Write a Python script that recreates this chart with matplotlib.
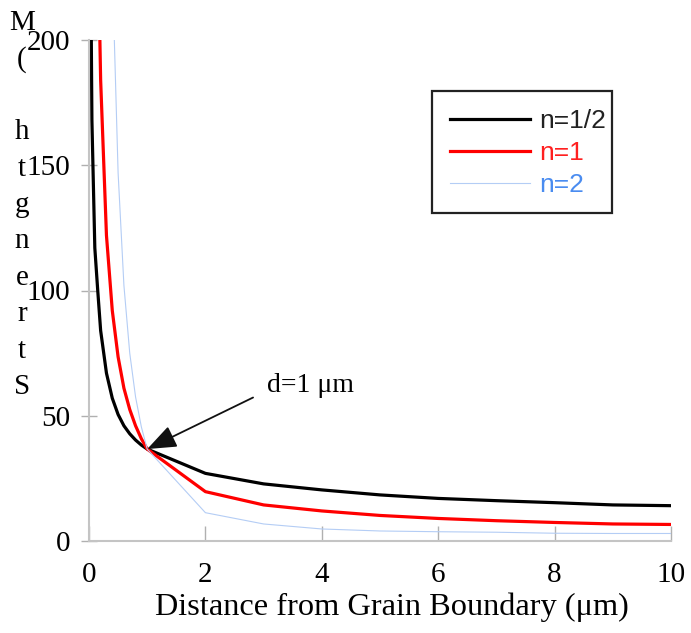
import matplotlib
matplotlib.use("Agg")
import matplotlib.pyplot as plt
from matplotlib.lines import Line2D
from matplotlib.patches import Rectangle

plt.rcParams['font.family'] = ['Liberation Serif', 'DejaVu Serif']

# strength (MPa) vs distance from the grain boundary (um), one curve per exponent n
black_d = [0.02, 0.05, 0.1, 0.15, 0.2, 0.3, 0.4, 0.5, 0.6, 0.7, 0.8, 0.9,
           1, 2, 3, 4, 5, 6, 7, 8, 9, 10]
black_s = [260, 168, 117, 100, 84, 67, 57, 50.5, 46, 42.8, 40.3, 38.3,
           36.7, 27, 22.8, 20.4, 18.4, 17, 16.1, 15.3, 14.4, 14.1]

red_d = [0.15, 0.2, 0.3, 0.4, 0.5, 0.6, 0.7, 0.8, 0.9,
         1, 2, 3, 4, 5, 6, 7, 8, 9, 10]
red_s = [245, 184, 122, 92, 73.5, 61, 52.5, 46, 40.8,
         36.7, 19.7, 14.4, 12, 10.2, 9, 8.1, 7.4, 6.8, 6.6]

blue_d = [0.4, 0.5, 0.6, 0.7, 0.8, 0.9, 1, 2, 3, 4, 5, 6, 7, 8, 9, 10]
blue_s = [229, 147, 102, 75, 57.5, 45.5, 36.7, 11.3, 6.8, 4.8, 4.0, 3.7,
          3.5, 3.1, 3.0, 3.0]

labels = ['n=1/2', 'n=1', 'n=2']
line_colors = ['#000000', '#ff0000', '#b4cdf5']
text_colors = ['#222222', '#ff2020', '#4a8cf0']
line_widths = [2.3, 2.3, 0.8]

x_ticks = [0, 2, 4, 6, 8, 10]
y_ticks = [0, 50, 100, 150, 200]

W, H = 691, 633
fig = plt.figure(figsize=(W / 100, H / 100), dpi=100)
ax = fig.add_axes([89 / W, 1 - 541 / H, 582 / W, 501 / H])

series = [(black_d, black_s), (red_d, red_s), (blue_d, blue_s)]
for (d, s), c, lw in zip(series, line_colors, line_widths):
    ax.plot(d, s, color=c, lw=lw, solid_joinstyle='round')

ax.set_xlim(0, 10)
ax.set_ylim(0, 200)
ax.set_xticks(x_ticks)
ax.set_yticks(y_ticks)

for side in ['top', 'right']:
    ax.spines[side].set_visible(False)
for side in ['left', 'bottom']:
    ax.spines[side].set_color('#c4c4c4')
    ax.spines[side].set_linewidth(1.5)

ax.tick_params(axis='x', direction='in', length=11, width=1, color='#b0b0b0',
               labelsize=21, pad=15)
ax.tick_params(axis='y', direction='inout', length=11, width=1, color='#b0b0b0',
               labelsize=21, pad=8)

ax.set_xlabel('Distance from Grain Boundary (μm)', fontsize=23.3, va='center')
ax.xaxis.set_label_coords((392 - 89) / 582, -(607 - 541) / 501)

# stacked upright letters for the y label, reading upward from the bottom
ylabel = 'Strength (MPa)'
for i, ch in enumerate(ylabel):
    y_px = 387 - 36.4 * i
    if y_px < 0 or ch == ' ':
        continue
    fig.text(22 / W, 1 - y_px / H, ch, fontsize=21, ha='center', va='center')

ax.annotate('d=1 μm', xy=(1.0, 36.7), xytext=(3.06, 62), ha='left', va='center',
            fontsize=20,
            arrowprops=dict(arrowstyle='-|>,head_length=0.9,head_width=0.35',
                            color='#111111', lw=1.3, shrinkA=9, shrinkB=0,
                            relpos=(0, 0.3)))

handles = [Line2D([], [], color=c, lw=lw) for c, lw in zip(line_colors, line_widths)]
leg = ax.legend(handles, labels, loc='upper left',
                bbox_to_anchor=(432 / W, 1 - 91 / H), bbox_transform=fig.transFigure,
                prop={'family': 'Liberation Sans', 'size': 19},
                frameon=False, handlelength=3.0, handletextpad=0.35,
                borderpad=0.7, labelspacing=0.3, borderaxespad=0)
for t, c in zip(leg.get_texts(), text_colors):
    t.set_color(c)

# legend box drawn on its own so its right margin stays tight
fig.patches.append(Rectangle((432 / W, 1 - 213 / H), 180 / W, 122 / H,
                             transform=fig.transFigure, fill=False,
                             edgecolor='#222222', lw=1.6, zorder=5))

fig.savefig('out.png', dpi=100)
